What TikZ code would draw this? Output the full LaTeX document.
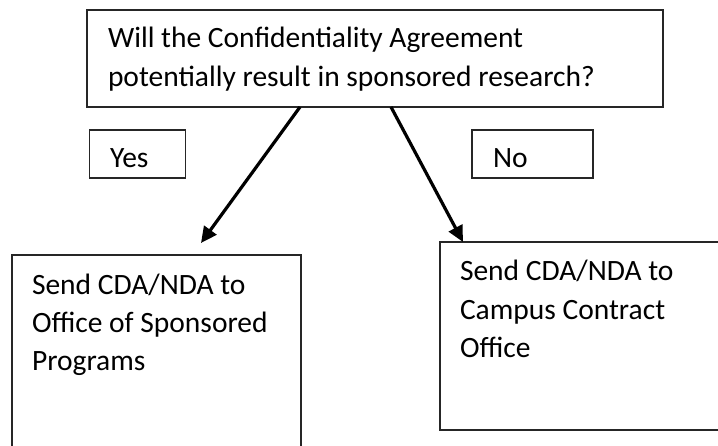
\documentclass[tikz,border=0pt]{standalone}
\usepackage{fontspec}
\setmainfont{Carlito}
\usetikzlibrary{arrows.meta}
\tikzset{
  box/.style={draw=black!85, line width=1.3pt, inner sep=0pt, outer sep=0pt, rectangle},
  txt/.style={inner sep=0pt, outer sep=0pt, align=left, anchor=base west, font=\fontsize{29.5}{38.5}\selectfont},
  arr/.style={line width=3.2pt, -{Triangle[length=16pt,width=15pt]}, shorten >=0pt}
}
\begin{document}
\begin{tikzpicture}[x=1pt,y=-1pt]
\useasboundingbox (0,0) rectangle (718,446);
\clip (0,0) rectangle (718,446);
% boxes
\node[box, minimum width=576pt, minimum height=97pt] (q) at (375,58.5) {};
\node[box, minimum width=96pt, minimum height=48pt] (yes) at (137.5,154) {};
\node[box, minimum width=121pt, minimum height=48pt] (no) at (532.5,154) {};
\node[box, minimum width=289pt, minimum height=220pt] (osp) at (156.5,365) {};
\node[box, minimum width=300pt, minimum height=188pt] (ccp) at (590,336) {};
% texts (anchored at the baseline of their last line)
\node[txt] (qt) at (108,86.5) {Will the Confidentiality Agreement\\potentially result in sponsored research?};
\node[txt] (yt) at (110,168) {Yes};
\node[txt] (nt) at (493,168) {No};
\node[txt] (ot) at (32,371) {Send CDA/NDA to\\Office of Sponsored\\Programs};
\node[txt] (ct) at (460,358) {Send CDA/NDA to\\Campus Contract\\Office};
% connectors
\coordinate (yend) at (201,243);
\draw[arr] (q.south -| 300,0) -- (yend);
\draw[arr] (q.south -| 391,0) -- (ccp.north -| 463,0);
\end{tikzpicture}
\end{document}
